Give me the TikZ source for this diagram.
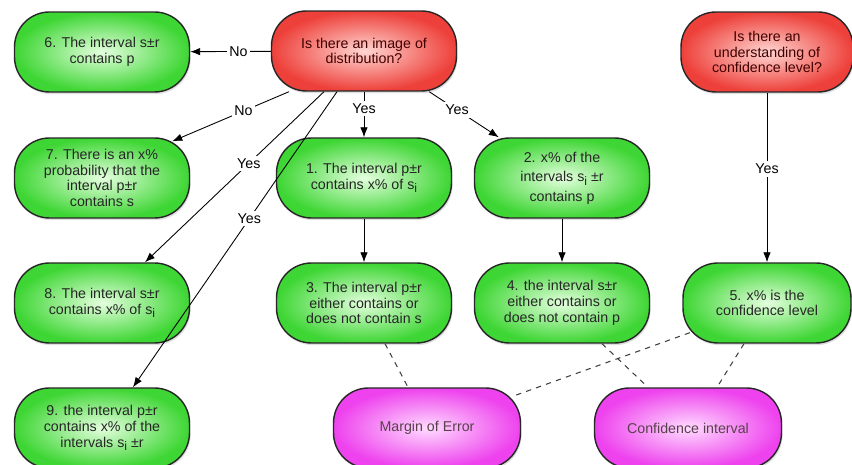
\documentclass[tikz,border=0pt]{standalone}
\usepackage{fontspec}
\setmainfont{Liberation Sans}
\usepackage{tikz}
\usetikzlibrary{arrows.meta}
\usetikzlibrary{shadows}
\definecolor{gedge}{RGB}{62,214,52}
\definecolor{gcenter}{RGB}{228,255,222}
\definecolor{redge}{RGB}{238,64,58}
\definecolor{rcenter}{RGB}{255,214,210}
\definecolor{medge}{RGB}{238,66,238}
\definecolor{mcenter}{RGB}{255,220,255}
\newcommand{\subi}{\raisebox{-0.45ex}{\fontsize{7}{7}\selectfont i}}
\tikzstyle{box} = [draw=black!85, line width=0.8pt, rounded corners=0.7cm, minimum width=3.5cm, minimum height=1.6cm, align=center, font=\fontsize{8.1}{9}\selectfont, drop shadow={opacity=0.25, shadow xshift=0.6pt, shadow yshift=-1.2pt}]
\tikzstyle{greenbox} = [box, inner color=gcenter, outer color=gedge, text=black!85]
\tikzstyle{redbox} = [box, inner color=rcenter, outer color=redge, text=red!25!black]
\tikzstyle{pinkbox} = [box, inner color=mcenter, outer color=medge, minimum width=3.74cm, text=magenta!25!black]
\tikzstyle{arrow} = [-{Latex[length=2mm, width=1.5mm]}, line width=0.5pt]
\tikzstyle{link} = [dashed, line width=0.6pt, black!75]
\tikzstyle{answer} = [fill=white, inner sep=1.5pt, font=\fontsize{8.1}{9}\selectfont]

\begin{document}
\begin{tikzpicture}[x=0.02cm, y=-0.02cm]
	\useasboundingbox[fill=white] (0,0) rectangle (852,465);

	\node[redbox, minimum width=3.7cm](q1) at (364, 51){Is there an image of\\distribution?};
	\node[redbox, minimum width=3.44cm](q2) at (767, 52){Is there an\\understanding of\\confidence level?};
	\node[greenbox](n6) at (102, 52){6. The interval s±r\\contains p};
	\node[greenbox](n7) at (102, 178){7. There is an x\%\\probability that the\\interval p±r\\contains s};
	\node[greenbox](n8) at (102, 303){8. The interval s±r\\contains x\% of s\subi};
	\node[greenbox](n9) at (102, 428){9. the interval p±r\\contains x\% of the\\intervals s\subi{} ±r};
	\node[greenbox](n1) at (364, 178){1. The interval p±r\\contains x\% of s\subi};
	\node[greenbox](n2) at (562, 178){2. x\% of the\\[2pt]intervals s\subi{} ±r\\[2pt]contains p};
	\node[greenbox](n3) at (364, 303){3. The interval p±r\\either contains or\\does not contain s};
	\node[greenbox](n4) at (562, 303){4. the interval s±r\\either contains or\\does not contain p};
	\node[greenbox, minimum width=3.36cm](n5) at (767, 303){5. x\% is the\\confidence level};
	\node[pinkbox](m) at (427, 428){Margin of Error};
	\node[pinkbox](c) at (688, 428){Confidence interval};

	\draw[arrow](q1) -- node[answer, pos=0.4]{No} (n6);
	\draw[arrow]([xshift=-1.5cm]q1.south) -- node[answer, pos=0.39]{No} ([xshift=-0.36cm, yshift=-0.08cm]n7.north east);
	\draw[arrow]([xshift=-0.8cm]q1.south) -- node[answer, pos=0.42]{Yes} ([xshift=0.86cm]n8.north);
	\draw[arrow]([xshift=-0.54cm]q1.south) -- node[answer, pos=0.43]{Yes} ([xshift=0.62cm]n9.north);
	\draw[arrow](q1) -- node[answer, pos=0.375]{Yes} (n1);
	\draw[arrow]([xshift=-0.56cm]q1.south east) -- node[answer, pos=0.4]{Yes} ([xshift=0.5cm]n2.north west);
	\draw[arrow](q2) -- node[answer, pos=0.45]{Yes} (n5);
	\draw[arrow](n1) -- (n3);
	\draw[arrow](n2) -- (n4);

	\draw[link]([xshift=0.42cm]n3.south) -- ([xshift=-0.38cm]m.north);
	\draw[link]([xshift=0.8cm]n4.south) -- ([xshift=-0.8cm]c.north);
	\draw[link]([xshift=0.15cm, yshift=0.22cm]n5.south west) -- ([xshift=-0.17cm, yshift=-0.18cm]m.north east);
	\draw[link]([xshift=-0.46cm]n5.south) -- ([xshift=0.58cm]c.north);
\end{tikzpicture}
\end{document}
